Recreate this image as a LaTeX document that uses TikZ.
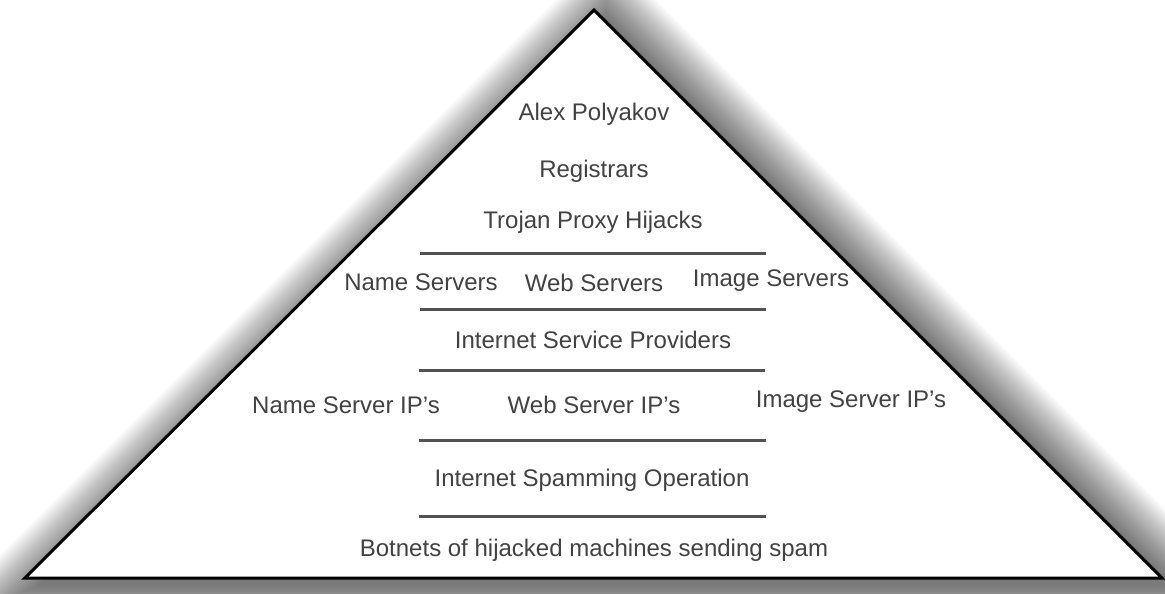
\documentclass[tikz,border=0pt]{standalone}
\usepackage{fontspec}
\setmainfont{Liberation Sans}
\begin{document}
\begin{tikzpicture}[x=1pt,y=-1pt,
  lbl/.style={font=\fontsize{24}{28}\selectfont, text=black!74, inner sep=0pt, anchor=center},
  sep/.style={line width=3pt, draw=black!68},
  tri/.style={line width=3pt, draw=black, line join=miter, fill=white}]
\useasboundingbox (0,0) rectangle (1165,594);
\fill[white] (0,0) rectangle (1165,594);
% corners of the pyramid
\coordinate (A) at (594,10);
\coordinate (B) at (25,578);
\coordinate (C) at (1162,578);
% soft shadow: stacked, enlarged, offset copies (incentre 594,342.7; inradius 235.3)
\begin{scope}
\clip (0,0) rectangle (1165,594);
\foreach \d in {0,1.5,...,48}{
  \pgfmathsetmacro{\s}{(235.3+\d)/235.3}
  \fill[black, opacity=0.02]
    ({594+(594-594)*\s+12},{342.7+(10-342.7)*\s+8}) --
    ({594+(25-594)*\s+12},{342.7+(578-342.7)*\s+8}) --
    ({594+(1162-594)*\s+12},{342.7+(578-342.7)*\s+8}) -- cycle;
}
\end{scope}
\draw[tri] (A) -- (B) -- (C) -- cycle;
% texts
\node[lbl] (alex) at (594,114) {Alex Polyakov};
\node[lbl] (reg) at (594,171) {Registrars};
\node[lbl] (troj) at (593,222) {Trojan Proxy Hijacks};
\node[lbl] (ns) at (421,282) {Name Servers};
\node[lbl] (ws) at (594,283) {Web Servers};
\node[lbl] (is) at (771,281) {Image Servers};
\node[lbl] (isp) at (593,340) {Internet Service Providers};
\node[lbl] (nsip) at (346,405) {Name Server IP’s};
\node[lbl] (wsip) at (594,405) {Web Server IP’s};
\node[lbl] (isip) at (851,402) {Image Server IP’s};
\node[lbl] (spam) at (592,480) {Internet Spamming Operation};
\node[lbl] (bot) at (594,550) {Botnets of hijacked machines sending spam};
% separator lines
\coordinate (l1a) at (420,253); \coordinate (l1b) at (766,253);
\coordinate (l2a) at (420,309); \coordinate (l2b) at (766,309);
\coordinate (l3a) at (419,370); \coordinate (l3b) at (765,370);
\coordinate (l4a) at (419,440); \coordinate (l4b) at (766,440);
\coordinate (l5a) at (419,516); \coordinate (l5b) at (766,516);
\draw[sep] (l1a) -- (l1b);
\draw[sep] (l2a) -- (l2b);
\draw[sep] (l3a) -- (l3b);
\draw[sep] (l4a) -- (l4b);
\draw[sep] (l5a) -- (l5b);
\end{tikzpicture}
\end{document}
